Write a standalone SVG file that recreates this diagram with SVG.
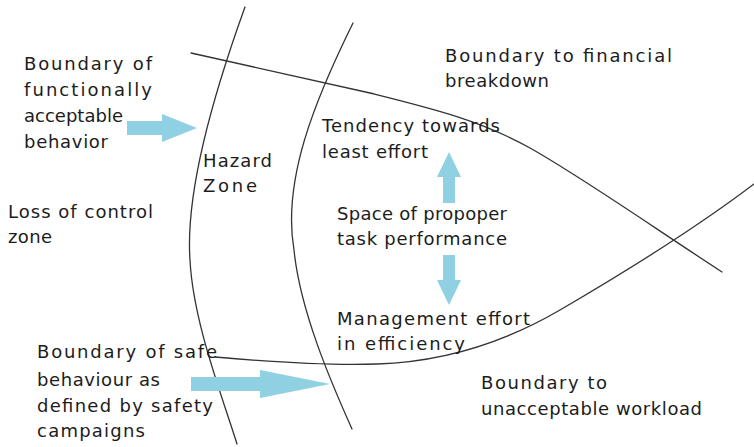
<svg xmlns="http://www.w3.org/2000/svg" width="754" height="447" viewBox="0 0 754 447">
<style>
.bd{fill:none;stroke:#333;stroke-width:1.3;stroke-linecap:round}
.ar{fill:#8fd0e2;stroke:none}
text{font-family:"DejaVu Sans","Liberation Sans",sans-serif;font-size:18px;fill:#1c1c1c}
</style>
<rect width="754" height="447" fill="#fff"/>
<g id="boundaries">
<path class="bd" d="M245,7 C215,90 185,190 190,260 C193,320 220,390 237,444"/>
<path class="bd" d="M353,23 C315,100 282,180 294,250 C300,310 330,380 352,429"/>
<path class="bd" d="M191,53 L370,93 C430,108 480,120 530,148 C580,176 650,225 722,272"/>
<path class="bd" d="M215,357 C260,361 320,366 377,364 C440,362 500,345 560,310 C620,275 700,225 754,184"/>
</g>
<g id="connectors">
<polygon class="ar" points="127,121 162,121 162,114 197,128 162,142 162,135 127,135"/>
<polygon class="ar" points="191,377 260,377 260,370 330,384 260,398 260,391 191,391"/>
<polygon class="ar" points="443,203 443,177 437,177 449,152 461,177 455,177 455,203"/>
<polygon class="ar" points="443,255 455,255 455,280 461,280 449,305 437,280 443,280"/>
</g>
<g id="functional-boundary">
<text x="24" y="70" textLength="128">Boundary of</text>
<text x="24" y="96" textLength="128">functionally</text>
<text x="24" y="122" textLength="99">acceptable</text>
<text x="24" y="148" textLength="84">behavior</text>
</g>
<g id="hazard-zone">
<text x="203" y="167" textLength="69">Hazard</text>
<text x="203" y="192" textLength="54">Zone</text>
</g>
<g id="loss-of-control">
<text x="8" y="218" textLength="145">Loss of control</text>
<text x="8" y="243" textLength="44">zone</text>
</g>
<g id="financial-boundary">
<text x="445" y="62" textLength="227">Boundary to financial</text>
<text x="445" y="87" textLength="104">breakdown</text>
</g>
<g id="least-effort">
<text x="322" y="132" textLength="178">Tendency towards</text>
<text x="322" y="158" textLength="106">least effort</text>
</g>
<g id="task-space">
<text x="337" y="220" textLength="170">Space of propoper</text>
<text x="337" y="245" textLength="170">task performance</text>
</g>
<g id="management">
<text x="337" y="325" textLength="193">Management effort</text>
<text x="337" y="350" textLength="128">in efficiency</text>
</g>
<g id="safe-boundary">
<text x="37" y="358" textLength="180">Boundary of safe</text>
<text x="37" y="386" textLength="123">behaviour as</text>
<text x="37" y="412" textLength="176">defined by safety</text>
<text x="37" y="437" textLength="108">campaigns</text>
</g>
<g id="workload-boundary">
<text x="481" y="389" textLength="126">Boundary to</text>
<text x="481" y="415" textLength="221">unacceptable workload</text>
</g>
</svg>
